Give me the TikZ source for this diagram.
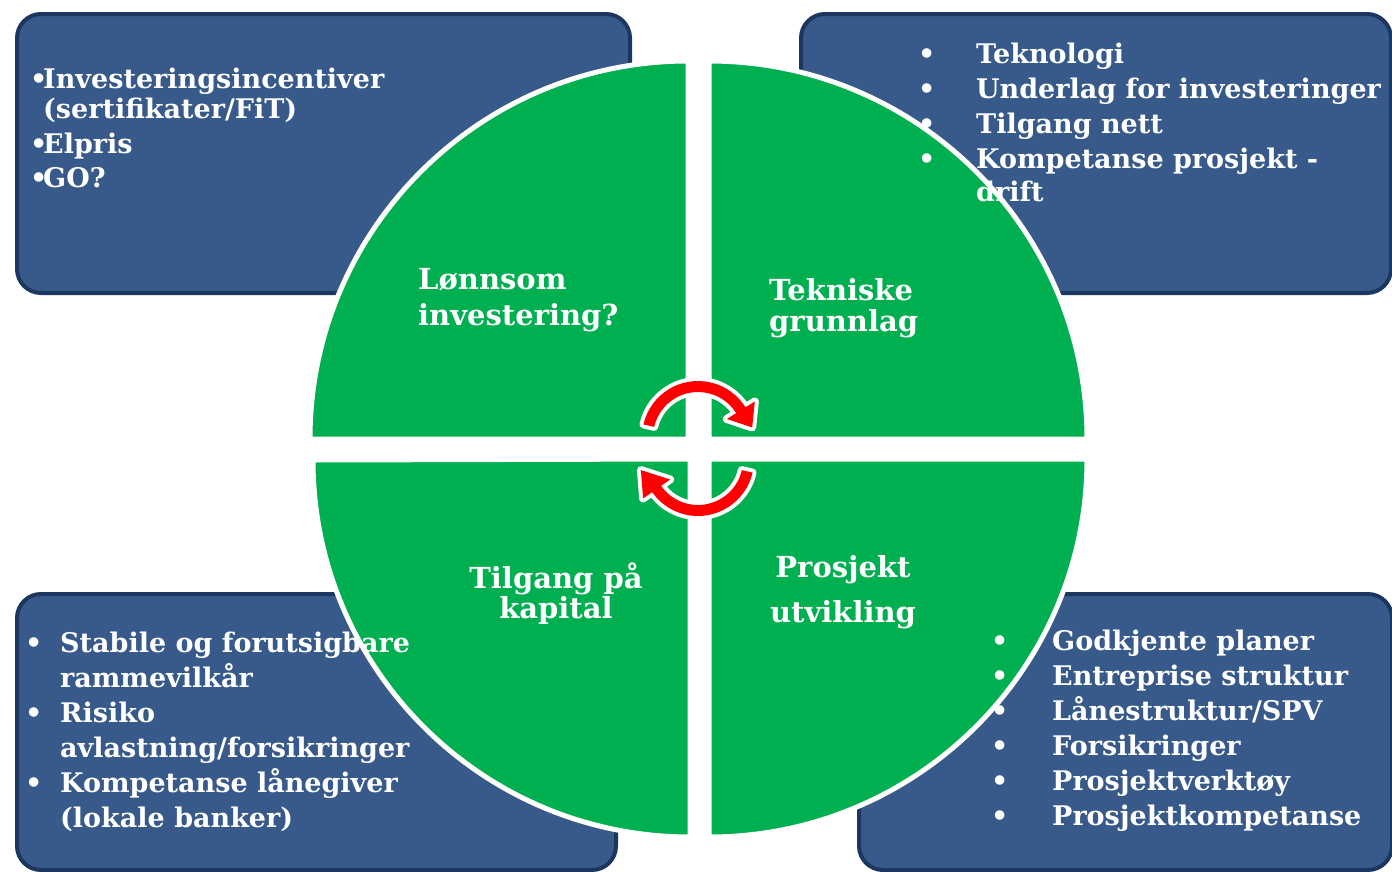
\documentclass[tikz,border=0pt]{standalone}
\usepackage{fontspec}
\setmainfont{DejaVu Serif}
\definecolor{boxfill}{HTML}{375A8A}
\definecolor{boxline}{HTML}{1C375F}
\definecolor{quadgreen}{HTML}{00B050}
\definecolor{arrowred}{HTML}{FF0000}
\newcommand{\bul}[1]{\makebox[#1][l]{•}}
\begin{document}
\begin{tikzpicture}[x=1pt,y=-1pt,
  infobox/.style={draw=boxline, fill=boxfill, line width=4pt, rounded corners=24pt,
    inner sep=0pt, anchor=north west},
  quad/.style={fill=quadgreen, draw=white, line width=5pt, line join=round},
  cyclearrow/.style={fill=arrowred, preaction={draw=white, line width=8pt, line join=round}},
  boxtext/.style={text=white, font=\bfseries, inner sep=0pt, anchor=base west},
  quadtext/.style={text=white, font=\bfseries, inner sep=0pt}
]
\useasboundingbox (0,0) rectangle (1392,871);

% info boxes
\node[infobox, minimum width=613pt, minimum height=279pt] (boxTL) at (15,12) {};
\node[infobox, minimum width=590pt, minimum height=279pt] (boxTR) at (799,12) {};
\node[infobox, minimum width=599pt, minimum height=276pt] (boxBL) at (15,592) {};
\node[infobox, minimum width=533pt, minimum height=276pt] (boxBR) at (857,592) {};

% quadrants
\path[quad] (688,439) -- (310,439) arc[start angle=180, end angle=270, radius=378] -- cycle;
\path[quad] (709,439) -- (709,61) arc[start angle=270, end angle=360, radius=378] -- cycle;
\path[quad] (709,459) -- (1087,459) arc[start angle=0, end angle=90, radius=378] -- cycle;
\path[quad] (690,459) -- (690,837) arc[start angle=90, end angle=180, radius=377] -- cycle;

% cycle arrows
\begin{scope}[shift={(698,437)}]
\path[cyclearrow] (193:56) arc[start angle=193, end angle=328, radius=56]
  -- (328:67) -- (350:55) -- (328:34) -- (328:45)
  arc[start angle=328, end angle=193, radius=45] -- cycle;
\end{scope}
\begin{scope}[shift={(698,460)}]
\path[cyclearrow] (13:56) arc[start angle=13, end angle=145, radius=56]
  -- (145:67) -- (170:58) -- (145:34) -- (145:45)
  arc[start angle=145, end angle=13, radius=45] -- cycle;
\end{scope}

% quadrant labels
\node[quadtext, anchor=base west] (labTL) at (418,289)
  {\parbox[t]{260pt}{\fontsize{29}{36}\selectfont Lønnsom\\investering?}};
\node[quadtext, anchor=base west] (labTR) at (769,300)
  {\parbox[t]{220pt}{\fontsize{29}{31}\selectfont Tekniske\\grunnlag}};
\node[quadtext, anchor=base] (labBL) at (556,588)
  {\parbox[t]{240pt}{\centering\fontsize{29}{30}\selectfont Tilgang på\\kapital}};
\node[quadtext, anchor=base] (labBR) at (843,577)
  {\parbox[t]{240pt}{\centering\fontsize{29}{45}\selectfont Prosjekt\\utvikling}};

% box texts
\node[boxtext] (txtTL) at (30,88) {\parbox[t]{560pt}{\fontsize{27}{30}\selectfont
  \bul{13pt}Investeringsincentiver\\
  \hspace*{13pt}(sertifikater/FiT)\\[5pt]
  \bul{13pt}Elpris\\[4pt]
  \bul{13pt}GO?}};
\node[boxtext] (txtTR) at (918,63) {\parbox[t]{470pt}{\fontsize{27}{35}\selectfont
  \bul{58pt}Teknologi\\
  \bul{58pt}Underlag for investeringer\\
  \bul{58pt}Tilgang nett\\
  \bul{58pt}Kompetanse prosjekt -\\[-2pt]
  \hspace*{58pt}drift}};
\node[boxtext] (txtBL) at (25,652) {\parbox[t]{560pt}{\fontsize{27}{35}\selectfont
  \bul{35pt}Stabile og forutsigbare\\
  \hspace*{35pt}rammevilkår\\
  \bul{35pt}Risiko\\
  \hspace*{35pt}avlastning/forsikringer\\
  \bul{35pt}Kompetanse lånegiver\\
  \hspace*{35pt}(lokale banker)}};
\node[boxtext] (txtBR) at (991,650) {\parbox[t]{400pt}{\fontsize{27}{35}\selectfont
  \bul{61pt}Godkjente planer\\
  \bul{61pt}Entreprise struktur\\
  \bul{61pt}Lånestruktur/SPV\\
  \bul{61pt}Forsikringer\\
  \bul{61pt}Prosjektverktøy\\
  \bul{61pt}Prosjektkompetanse}};
\end{tikzpicture}
\end{document}
